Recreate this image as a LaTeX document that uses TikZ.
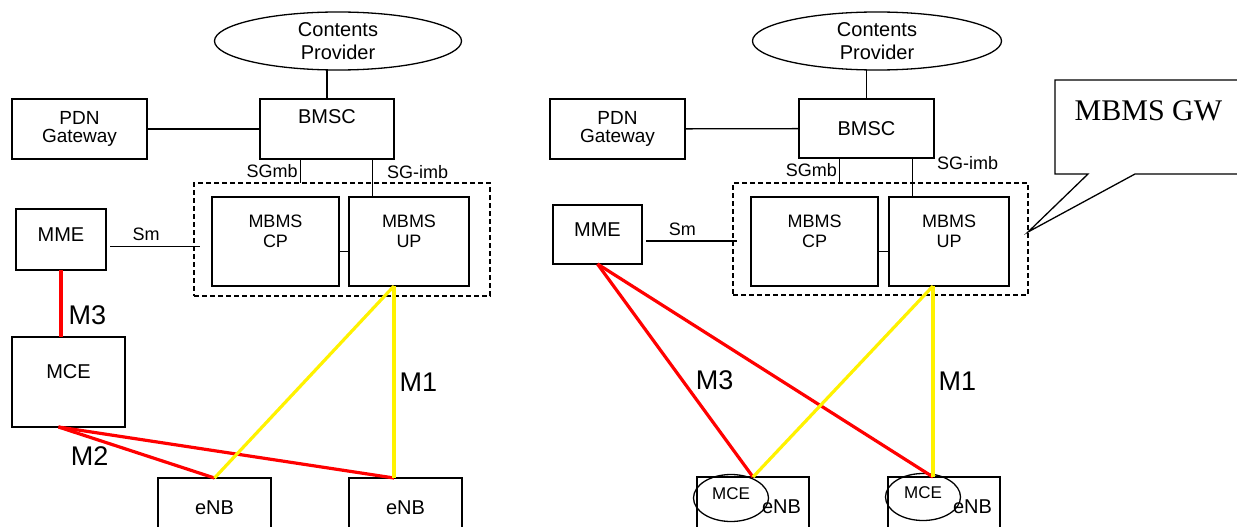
\documentclass[tikz,border=0pt]{standalone}
\usepackage{fontspec}
\setmainfont{Liberation Sans}
\newfontfamily\gwserif{Liberation Serif}
\usetikzlibrary{positioning, shapes.geometric, calc}

\begin{document}
\begin{tikzpicture}[x=1pt, y=-1pt, line width=1.3pt, line join=miter,
    box/.style={draw, rectangle, inner sep=0pt, outer sep=0pt, align=center, font=\fontsize{20}{23}\selectfont},
    cloud/.style={draw, ellipse, inner sep=0pt, outer sep=0pt, align=center, font=\fontsize{20}{23}\selectfont},
    gwbox/.style={draw, dash pattern=on 5pt off 3pt, line width=1.6pt, rectangle, inner sep=0pt, outer sep=0pt},
    pdn/.style={box, minimum width=135pt, minimum height=60pt, font=\fontsize{19}{18.5}\selectfont},
    mbms/.style={box, minimum height=89pt, font=\fontsize{18}{20}\selectfont},
    enb/.style={box, minimum width=113pt, minimum height=60pt},
    mce/.style={cloud, minimum width=75pt, minimum height=47pt, text depth=8pt, font=\fontsize{17}{20}\selectfont},
    iflbl/.style={inner sep=2pt, font=\fontsize{18}{20}\selectfont},
    mlbl/.style={inner sep=2pt, font=\fontsize{27}{30}\selectfont},
    mthree/.style={draw=red, line width=3.2pt},
    mone/.style={draw=yellow, line width=3.2pt}]
  \useasboundingbox (0,0) rectangle (1237,527);
  \clip (0,0) rectangle (1237,527);

  % left: MCE as a separate node
  \node[cloud, minimum width=247pt, minimum height=58pt] (provL) at (338,41) {Contents\\Provider};
  \node[box, minimum width=134pt, minimum height=60pt, text depth=24pt] (bmscL) at (327,129) {BMSC};
  \node[pdn] (pdnL) at (79.5,129) {PDN\\Gateway};
  \node[gwbox, minimum width=296pt, minimum height=113pt] (gwL) at (342,239.5) {};
  \node[mbms, minimum width=127pt] (mbmscpL) at (275.5,241.5) {MBMS\\CP\\\mbox{}};
  \node[mbms, minimum width=120pt] (mbmsupL) at (409,241.5) {MBMS\\UP\\\mbox{}};
  \node[box, minimum width=90pt, minimum height=61pt, text depth=10pt] (mmeL) at (61,239.5) {MME};
  \node[box, minimum width=113pt, minimum height=90pt, text depth=20pt] (mceL) at (68.5,382) {MCE};
  \node[enb] (enbaL) at (214.5,508) {eNB};
  \node[enb] (enbbL) at (405.5,508) {eNB};

  \coordinate (sgmbL) at ($(bmscL.south west)!0.3!(bmscL.south east)$);
  \coordinate (sgimbL) at ($(bmscL.south west)!0.84!(bmscL.south east)$);
  \coordinate (smL) at ($(mmeL.east)+(4,7)$);
  \coordinate (m1L) at ($(mbmsupL.south)+(-15,0)$);
  \coordinate (m2L) at ($(mceL.south)+(-10,0)$);
  \draw (provL.south -| bmscL.north) -- (bmscL.north);
  \draw (pdnL) -- (bmscL);
  \draw (sgmbL) -- node[iflbl, left] (sgmbLt) {SGmb} (sgmbL |- gwL.north);
  \draw (sgimbL) -- node[iflbl, right=12pt, pos=0.35] (sgimbLt) {SG-imb} (sgimbL |- mbmsupL.north);
  \draw ($(mbmscpL.east)+(0,10)$) -- ($(mbmsupL.west)+(0,10)$);
  \draw (smL) -- node[iflbl, above=3pt, pos=0.4] (smLt) {Sm} ($(smL -| gwL.west)+(6,0)$);
  \draw[mthree] (mmeL.south) -- node[mlbl, right=4pt, pos=0.68] (m3Lt) {M3} (mmeL.south |- mceL.north);
  \draw[mthree] (m2L) -- node[mlbl, below=6pt, pos=0.2] (m2Lt) {M2} (enbaL.north);
  \draw[mthree] (m2L) -- (m1L |- enbbL.north);
  \draw[mone] (m1L) -- (enbaL.north);
  \draw[mone] (m1L) -- node[mlbl, right=2pt] (m1Lt) {M1} (m1L |- enbbL.north);

  % right: MCE inside the eNB
  \node[cloud, minimum width=249pt, minimum height=58pt] (provR) at (877,41) {Contents\\Provider};
  \node[box, minimum width=135pt, minimum height=59pt] (bmscR) at (866.5,128.5) {BMSC};
  \node[pdn] (pdnR) at (617.5,129) {PDN\\Gateway};
  \node[gwbox, minimum width=295pt, minimum height=112pt] (gwR) at (880.5,239) {};
  \node[mbms, minimum width=127pt] (mbmscpR) at (814.5,241.5) {MBMS\\CP\\\mbox{}};
  \node[mbms, minimum width=120pt] (mbmsupR) at (949,241.5) {MBMS\\UP\\\mbox{}};
  \node[box, minimum width=89pt, minimum height=59pt, text depth=9pt] (mmeR) at (597.5,234.5) {MME};
  \node[enb, minimum width=112pt, text width=96pt, align=right] (enbaR) at (753,507) {eNB};
  \node[enb, minimum width=112pt, text width=96pt, align=right] (enbbR) at (944,507) {eNB};
  \node[mce] (mceaR) at (731,498) {MCE};
  \node[mce] (mcebR) at (923,497) {MCE};
  \node[anchor=west, inner sep=0pt, font=\gwserif\fontsize{30}{34}\selectfont] (gwtxt) at (1074,111) {MBMS GW};

  \coordinate (sgmbR) at ($(bmscR.south west)!0.3!(bmscR.south east)$);
  \coordinate (sgimbR) at ($(bmscR.south west)!0.84!(bmscR.south east)$);
  \coordinate (smR) at ($(mmeR.east)+(4,6.5)$);
  \coordinate (m1R) at ($(mbmsupR.south)+(-16,0)$);
  \draw (provR.south -| bmscR.north) -- (bmscR.north);
  \draw (pdnR) -- (bmscR);
  \draw (sgmbR) -- node[iflbl, left] (sgmbRt) {SGmb} (sgmbR |- gwR.north);
  \draw (sgimbR) -- node[iflbl, right=22pt, pos=0.12] (sgimbRt) {SG-imb} (sgimbR |- mbmsupR.north);
  \draw ($(mbmscpR.east)+(0,10)$) -- ($(mbmsupR.west)+(0,10)$);
  \draw (smR) -- node[iflbl, above=3pt, pos=0.4] (smRt) {Sm} ($(smR -| gwR.west)+(4,0)$);
  \draw (1245,80) -- (1055,80) -- (1055,174) -- (1088,174) -- ($(gwR.east)+(0,-7)$) -- (1135,174) -- (1245,174);
  \draw[mthree] (mmeR.south) -- node[mlbl, right=10pt, pos=0.545] (m3Rt) {M3} (enbaR.north);
  \draw[mthree] (mmeR.south) -- (m1R |- enbbR.north);
  \draw[mone] (m1R) -- (enbaR.north);
  \draw[mone] (m1R) -- node[mlbl, right=2pt] (m1Rt) {M1} (m1R |- enbbR.north);
\end{tikzpicture}
\end{document}
